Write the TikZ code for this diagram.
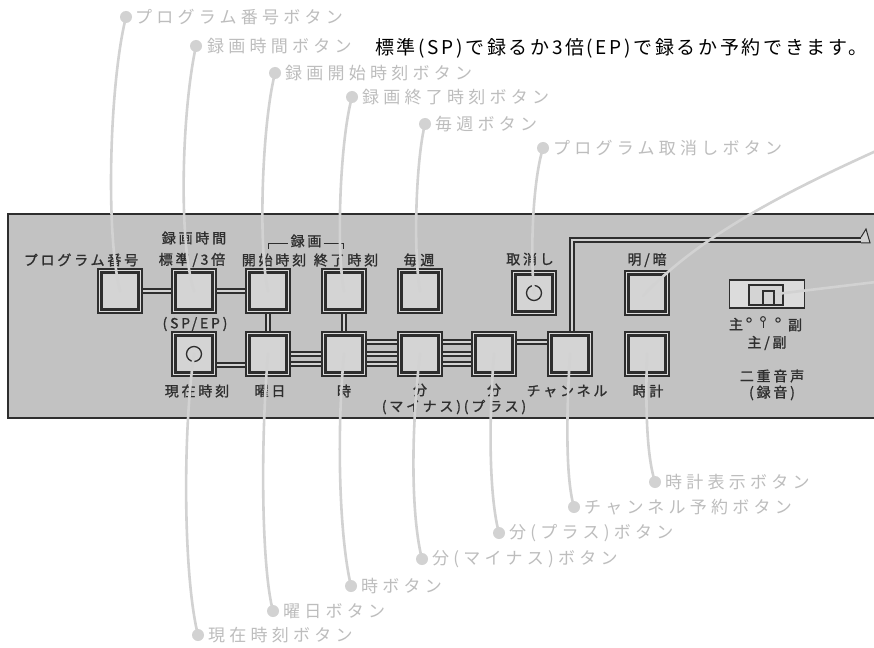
\documentclass[tikz,border=0pt]{standalone}
\usepackage{fontspec}
\setmainfont{Noto Sans CJK JP}
\newfontfamily\lblfont[LetterSpace=25]{Noto Sans CJK JP}
\newfontfamily\pnlfont[LetterSpace=20,FakeBold=1.2]{Noto Sans CJK JP}
\newfontfamily\blkfont[LetterSpace=14]{Noto Sans CJK JP}
\usetikzlibrary{backgrounds,calc}
\definecolor{dk}{HTML}{2E2E2E}
\definecolor{panelc}{HTML}{C2C2C2}
\definecolor{btnring}{HTML}{DCDCDC}
\definecolor{btnfill}{HTML}{D4D4D4}
\definecolor{bandin}{HTML}{D2D2D2}
\definecolor{coc}{HTML}{D2D2D2}
\definecolor{lblc}{HTML}{BDBDBD}
\begin{document}
\begin{tikzpicture}[x=1pt,y=-1pt,
  btn/.style={draw=dk, line width=1.1pt, fill=btnring, minimum size=44pt, inner sep=0pt, outer sep=0pt},
  btninner/.style={draw=dk, line width=2.8pt, fill=btnfill},
  band/.style={draw=bandin, line width=2.6pt, preaction={draw=dk, line width=5.6pt}},
  co/.style={draw=coc, line width=2.6pt, line cap=round},
  dotc/.style={circle, fill=coc, minimum size=12pt, inner sep=0pt},
  lbl/.style={anchor=west, inner sep=0pt, text=lblc, font=\lblfont\fontsize{17pt}{17pt}\selectfont},
  ptxt/.style={inner sep=0pt, text=dk, font=\pnlfont\fontsize{14pt}{14pt}\selectfont}
]
\useasboundingbox (0,0) rectangle (874,647);

% panel
\begin{pgfonlayer}{background}
\fill[white] (0,0) rectangle (874,647);
\fill[panelc] (8,214) rectangle (880,418);
\draw[dk, line width=1.8pt] (880,214) -- (8,214) -- (8,418) -- (880,418);
\end{pgfonlayer}

% buttons
\foreach \n/\x/\y in {bP/120/291, bT/194/291, bS/268/291, bE/344/291, bW/420/291,
  bC/534/293, bB/647/293, bN/194/354, bD/268/354, bH/344/354, bM/420/354,
  bPl/494/354, bCh/570/354, bK/647/354}{
  \node[btn] (\n) at (\x,\y) {};
  \draw[btninner] ($(\n.north west)+(3.6,3.6)$) rectangle ($(\n.south east)+(-3.6,-3.6)$);
}
\draw[dk, line width=1.3pt] (bC) circle (7.5);
\draw[dk, line width=1.3pt] (bN) circle (7.5);

% bands
\begin{pgfonlayer}{background}
\draw[band] (bP) -- (bT);
\draw[band] (bT) -- (bS);
\draw[band] (bS) -- (bD);
\draw[band] (bE) -- (bH);
\draw[band] ($(bN)+(0,11)$) -- ($(bD)+(0,11)$);
\draw[band] (bD) -- (bH);
\draw[band] ($(bD)+(0,10)$) -- ($(bH)+(0,10)$);
\foreach \o in {-12,0,10}{
  \draw[band] ($(bH)+(0,\o)$) -- ($(bM)+(0,\o)$);
  \draw[band] ($(bM)+(0,\o)$) -- ($(bPl)+(0,\o)$);
}
\draw[band] ($(bPl)+(0,-12)$) -- ($(bCh)+(0,-12)$);
\coordinate (rEnd) at (862,240);
\draw[band] ($(bCh)+(2,0)$) |- (rEnd);
\draw[dk, line width=1pt, fill=bandin] (861,237.2) -- (866,229) -- (870,242.8) -- (861,242.8);
\end{pgfonlayer}

% panel texts
\node[ptxt] (tP) at (81,260) {プログラム番号};
\node[ptxt] (tRT) at (194,238) {録画時間};
\node[ptxt] (tT) at (192,260) {標準/3倍};
\node[ptxt] (tS) at (274,260) {開始時刻};
\node[ptxt] (tE) at (346,260) {終了時刻};
\node[ptxt] (tW) at (419,260) {毎週};
\node[ptxt] (tC) at (530,259) {取消し};
\node[ptxt] (tB) at (647,260) {明/暗};
\node[ptxt] (tSP) at (195,324) {(SP/EP)};
\node[ptxt] (tN) at (197,391) {現在時刻};
\node[ptxt] (tD) at (270,391) {曜日};
\node[ptxt] (tH) at (344,391) {時};
\node[ptxt] (tM) at (420,390) {分};
\node[ptxt] (tPl) at (494,390) {分};
\node[ptxt] (tMP) at (454,407) {(マイナス)(プラス)};
\node[ptxt] (tCh) at (567,391) {チャンネル};
\node[ptxt] (tK) at (648,391) {時計};
\node[ptxt] (tRec) at (306,241) {録画};
\draw[dk, line width=1pt] (268,249) -- (268,243) -- ($(tRec.west |- 0,243)+(-2,0)$);
\draw[dk, line width=1pt] ($(tRec.east |- 0,243)+(2,0)$) -- (343,243) -- (343,249);

% switch
\node[draw=dk, line width=1.2pt, fill=btnring, minimum width=75pt, minimum height=28pt, inner sep=0pt] (sw) at (767,294) {};
\node[draw=dk, line width=2.6pt, fill=btnfill, minimum width=34pt, minimum height=20pt, inner sep=0pt] (swi) at (766,295) {};
\draw[dk, line width=1.3pt] (763,304) -- (763,291) -- (774,291) -- (774,304);
\node[ptxt] (tMain) at (736,324) {主};
\node[ptxt] (tSub) at (795,325) {副};
\draw[dk, line width=1pt] (749,320) circle (2.2);
\draw[dk, line width=1pt] (778,320) circle (2.2);
\draw[dk, line width=1pt] (763,319) circle (2.4);
\draw[dk, line width=1pt] (763,321.4) -- (763,328);
\node[ptxt] (tMS) at (767,343) {主/副};
\node[ptxt] (tDual) at (772,376) {二重音声};
\node[ptxt] (tRecA) at (772,393) {(録音)};

% callout labels
\node[dotc] (d1) at (126,17) {};
\node[lbl] (l1) at (135,17) {プログラム番号ボタン};
\node[dotc] (d2) at (196,46) {};
\node[lbl] (l2) at (207,46) {録画時間ボタン};
\node[anchor=west, inner sep=0pt, text=black, font=\blkfont\fontsize{19pt}{19pt}\selectfont] (l2b) at (375,48) {標準(SP)で録るか3倍(EP)で録るか予約できます。};
\node[dotc] (d3) at (275,73) {};
\node[lbl] (l3) at (285,73) {録画開始時刻ボタン};
\node[dotc] (d4) at (352,97) {};
\node[lbl] (l4) at (362,97) {録画終了時刻ボタン};
\node[dotc] (d5) at (425,124) {};
\node[lbl] (l5) at (435,124) {毎週ボタン};
\node[dotc] (d6) at (543,148) {};
\node[lbl] (l6) at (553,148) {プログラム取消しボタン};

\node[dotc] (d9) at (655,482) {};
\node[lbl] (l9) at (665,482) {時計表示ボタン};
\node[dotc] (d10) at (574,507) {};
\node[lbl] (l10) at (584,507) {チャンネル予約ボタン};
\node[dotc] (d11) at (499,533) {};
\node[lbl] (l11) at (509,533) {分(プラス)ボタン};
\node[dotc] (d12) at (422,559) {};
\node[lbl] (l12) at (432,559) {分(マイナス)ボタン};
\node[dotc] (d13) at (351,586) {};
\node[lbl] (l13) at (361,586) {時ボタン};
\node[dotc] (d14) at (273,611) {};
\node[lbl] (l14) at (283,611) {曜日ボタン};
\node[dotc] (d15) at (198,635) {};
\node[lbl] (l15) at (208,635) {現在時刻ボタン};

% callout lines
\draw[co] (d1.center) .. controls (110,80) and (105,230) .. (bP.center);
\draw[co] (d2.center) .. controls (182,110) and (178,240) .. (bT.center);
\draw[co] (d3.center) .. controls (262,125) and (258,245) .. (bS.center);
\draw[co] (d4.center) .. controls (340,140) and (336,250) .. (bE.center);
\draw[co] (d5.center) .. controls (416,160) and (413,250) .. (bW.center);
\draw[co] (d6.center) .. controls (533,180) and (530,250) .. (bC.center);
\draw[co] (bK.center) .. controls (645,420) and (648,460) .. (d9.center);
\draw[co] (bCh.center) .. controls (566,420) and (566,480) .. (d10.center);
\draw[co] (bPl.center) .. controls (488,430) and (490,500) .. (d11.center);
\draw[co] (bM.center) .. controls (410,440) and (412,520) .. (d12.center);
\draw[co] (bH.center) .. controls (336,440) and (340,540) .. (d13.center);
\draw[co] (bD.center) .. controls (260,450) and (262,570) .. (d14.center);
\draw[co] (bN.center) .. controls (182,440) and (184,580) .. (d15.center);
\coordinate (e1) at (876,151);
\coordinate (e2) at (876,282);
\draw[co] (e1) .. controls (790,190) and (700,235) .. ($(bB.center)+(-4,3)$);
\draw[co] (e2) -- ($(swi.center)+(10,-1)$);
\end{tikzpicture}
\end{document}
